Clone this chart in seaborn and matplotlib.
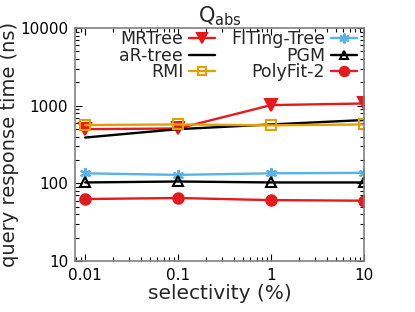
import numpy as np
import pandas as pd
import matplotlib
matplotlib.use("Agg")
import matplotlib.pyplot as plt
import seaborn as sns
from matplotlib.ticker import LogLocator, FixedLocator, FixedFormatter, NullFormatter

selectivity = [0.01, 0.1, 1, 10]
x_ticklabels = ["0.01", "0.1", "1", "10"]
y_ticks = [10, 100, 1000, 10000]
y_ticklabels = ["10", "100", "1000", "10000"]

series_names = ["MRTree", "aR-tree", "RMI", "FITing-Tree", "PGM", "PolyFit-2"]
mrtree = [500, 510, 1020, 1070]
artree = [390, 500, 575, 655]
rmi = [565, 575, 560, 575]
fiting = [135, 129, 135, 137]
pgm = [103, 106, 103, 103]
polyfit = [63, 65, 61, 60]

values = [mrtree, artree, rmi, fiting, pgm, polyfit]
colors = ["#e41a1c", "#000000", "#e69f00", "#56b4e9", "#000000", "#e41a1c"]
markers = ["v", None, "s", (6, 2, 0), "^", "o"]
filled = [True, False, False, True, False, True]
msizes = [8, 0, 7, 8, 7, 7.5]

df = pd.DataFrame({
    "selectivity": selectivity * len(series_names),
    "time": sum(values, []),
    "index": np.repeat(series_names, len(selectivity)),
})

sns.set_style("ticks")
plt.rcParams["font.family"] = ["DejaVu Sans"]

fig = plt.figure(figsize=(4.15, 3.12), dpi=100)
ax = fig.add_axes([0.181, 0.163, 0.696, 0.747])

for name, c, m, f, ms in zip(series_names, colors, markers, filled, msizes):
    sub = df[df["index"] == name]
    kw = dict(color=c, linewidth=1.7, label=name)
    if m is not None:
        kw.update(marker=m, markersize=ms, markeredgecolor=c, markeredgewidth=1.5,
                  markerfacecolor=c if f else "none")
    sns.lineplot(data=sub, x="selectivity", y="time", ax=ax, **kw)

ax.set_xscale("log")
ax.set_yscale("log")
ax.set_xlim(0.0078, 10)
ax.set_ylim(10, 10000)

ax.xaxis.set_major_locator(FixedLocator(selectivity))
ax.xaxis.set_major_formatter(FixedFormatter(x_ticklabels))
ax.xaxis.set_minor_locator(LogLocator(base=10, subs=np.arange(2, 10)))
ax.xaxis.set_minor_formatter(NullFormatter())
ax.yaxis.set_major_locator(FixedLocator(y_ticks))
ax.yaxis.set_major_formatter(FixedFormatter(y_ticklabels))
ax.yaxis.set_minor_locator(LogLocator(base=10, subs=np.arange(2, 10)))
ax.yaxis.set_minor_formatter(NullFormatter())

ax.tick_params(which="both", direction="in", top=True, right=True, colors="black",
               labelsize=11, width=0.8)
ax.tick_params(which="major", length=5)
ax.tick_params(axis="x", which="major", pad=5)
ax.tick_params(axis="y", which="major", pad=5)
ax.tick_params(which="minor", length=3)
for s in ax.spines.values():
    s.set_color("#808080")
    s.set_linewidth(1.2)

ax.set_xlabel("selectivity (%)", fontsize=14.5, labelpad=1)
ax.set_ylabel("query response time (ns)", fontsize=14, labelpad=1)
ax.set_title(r"$\mathregular{Q_{abs}}$", fontsize=15, pad=4)

leg = ax.legend(ncol=2, markerfirst=False, frameon=False, loc="upper right",
                fontsize=12.5, handlelength=1.5, handletextpad=0.35,
                columnspacing=0.9, labelspacing=-0.1, borderaxespad=0.4,
                borderpad=0.0, markerscale=0.9)
leg.set_bbox_to_anchor((1.0, 1.02), transform=ax.transAxes)

fig.savefig("out.png", dpi=100)
